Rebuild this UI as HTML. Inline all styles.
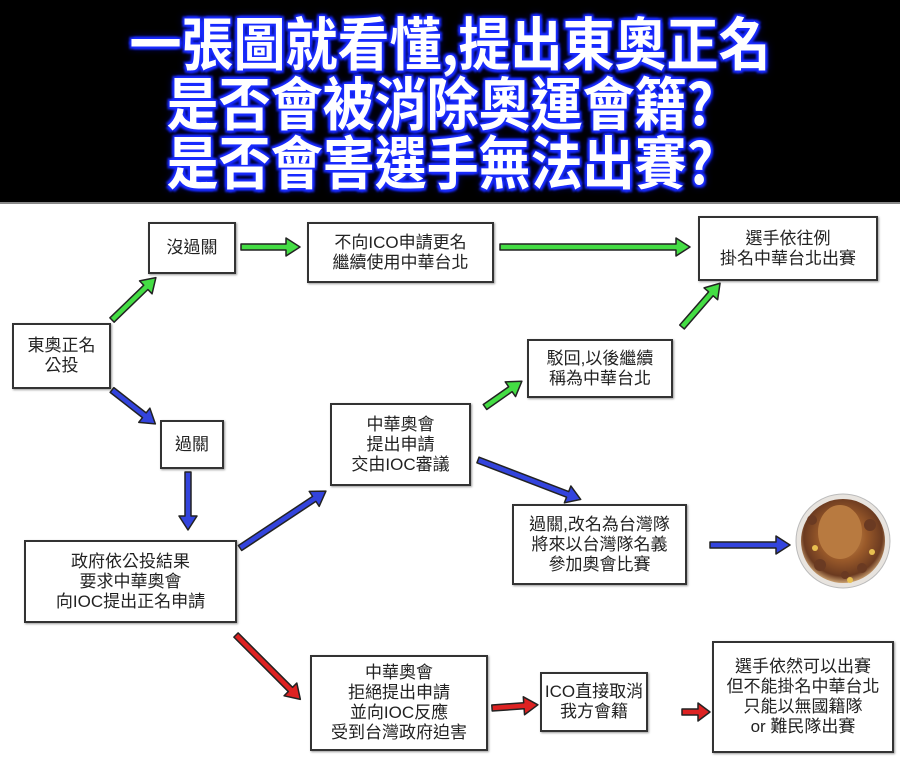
<!DOCTYPE html>
<html><head><meta charset="utf-8"><style>
body{margin:0;width:900px;height:765px;background:#fff;position:relative;overflow:hidden;font-family:"Liberation Sans","Noto Sans CJK TC",sans-serif}
#top{position:absolute;left:0;top:0;width:900px;height:202px;background:#000;border-bottom:2px solid #888}
.t{position:absolute;left:0;width:880px;text-align:center;color:#fff;font-weight:bold;font-size:52px;line-height:58px;transform:scaleY(1.1);font-family:"Noto Sans CJK TC","WenQuanYi Zen Hei",sans-serif;
text-shadow:0 0 2px #1a2cff,2px 2px 2px #1a2cff,-2px -2px 2px #1a2cff,2px -2px 2px #1a2cff,-2px 2px 2px #1a2cff,0 0 8px #0010c0}
.b{position:absolute;border:2px solid #333;background:#fff;display:flex;align-items:center;justify-content:center;text-align:center;font-size:17px;line-height:20px;color:#222;box-sizing:border-box;box-shadow:1px 1px 2px #999;font-family:"Liberation Sans","Noto Sans CJK TC",sans-serif}
svg{position:absolute;left:0;top:0}
</style></head><body>
<div id="top"></div>
<div class="t" style="top:12px;left:10px">一張圖就看懂,提出東奧正名</div>
<div class="t" style="top:72px">是否會被消除奧運會籍?</div>
<div class="t" style="top:131px">是否會害選手無法出賽?</div>

<div class="b" style="left:148px;top:222px;width:88px;height:52px">沒過關</div>
<div class="b" style="left:307px;top:222px;width:187px;height:61px">不向ICO申請更名<br>繼續使用中華台北</div>
<div class="b" style="left:698px;top:216px;width:180px;height:65px">選手依往例<br>掛名中華台北出賽</div>
<div class="b" style="left:12px;top:323px;width:99px;height:66px">東奧正名<br>公投</div>
<div class="b" style="left:527px;top:339px;width:146px;height:59px">駁回,以後繼續<br>稱為中華台北</div>
<div class="b" style="left:160px;top:420px;width:64px;height:49px">過關</div>
<div class="b" style="left:330px;top:403px;width:141px;height:83px">中華奧會<br>提出申請<br>交由IOC審議</div>
<div class="b" style="left:512px;top:504px;width:175px;height:81px">過關,改名為台灣隊<br>將來以台灣隊名義<br>參加奧會比賽</div>
<div class="b" style="left:24px;top:540px;width:213px;height:83px">政府依公投結果<br>要求中華奧會<br>向IOC提出正名申請</div>
<div class="b" style="left:310px;top:655px;width:178px;height:96px">中華奧會<br>拒絕提出申請<br>並向IOC反應<br>受到台灣政府迫害</div>
<div class="b" style="left:540px;top:672px;width:108px;height:60px">ICO直接取消<br>我方會籍</div>
<div class="b" style="left:712px;top:641px;width:182px;height:112px">選手依然可以出賽<br>但不能掛名中華台北<br>只能以無國籍隊<br>or 難民隊出賽</div>

<svg width="900" height="765">
<defs>
<radialGradient id="tk" cx="50%" cy="45%" r="55%"><stop offset="0" stop-color="#d09a5a"/><stop offset="0.5" stop-color="#9a5a2a"/><stop offset="0.85" stop-color="#6b3a20"/><stop offset="1" stop-color="#caa070"/></radialGradient>
</defs>
<circle cx="843" cy="541" r="47" fill="#e8e4df" stroke="#bbb"/>
<circle cx="843" cy="541" r="42" fill="url(#tk)"/>
<ellipse cx="840" cy="532" rx="22" ry="27" fill="#b87a40"/>
<g fill="#6a3a22"><circle cx="812" cy="520" r="5"/><circle cx="870" cy="525" r="6"/><circle cx="820" cy="565" r="6"/><circle cx="862" cy="568" r="5"/><circle cx="845" cy="575" r="4"/></g>
<g fill="#e8c050"><circle cx="815" cy="548" r="3"/><circle cx="872" cy="552" r="3"/><circle cx="850" cy="580" r="3"/></g>
<g stroke="#222" stroke-width="1.5" stroke-linejoin="round">
<g fill="#44dd44">
<polygon transform="translate(112,320) rotate(-44)" points="0,-3 47,-3 47,-9 61,0 47,9 47,3 0,3"/>
<polygon transform="translate(241,247)" points="0,-3 45,-3 45,-9 59,0 45,9 45,3 0,3"/>
<polygon transform="translate(500,247)" points="0,-3 176,-3 176,-9 190,0 176,9 176,3 0,3"/>
<polygon transform="translate(682,327) rotate(-49)" points="0,-3 44,-3 44,-9 58,0 44,9 44,3 0,3"/>
<polygon transform="translate(485,407) rotate(-35)" points="0,-3 31,-3 31,-9 45,0 31,9 31,3 0,3"/>
</g>
<g fill="#3344dd">
<polygon transform="translate(112,390) rotate(38)" points="0,-3 41,-3 41,-9 55,0 41,9 41,3 0,3"/>
<polygon transform="translate(188,472) rotate(90)" points="0,-3 44,-3 44,-9 58,0 44,9 44,3 0,3"/>
<polygon transform="translate(240,548) rotate(-33.5)" points="0,-3 89,-3 89,-9 103,0 89,9 89,3 0,3"/>
<polygon transform="translate(478,460) rotate(21)" points="0,-3 96,-3 96,-9 110,0 96,9 96,3 0,3"/>
<polygon transform="translate(710,545)" points="0,-3 66,-3 66,-9 80,0 66,9 66,3 0,3"/>
</g>
<g fill="#dd2222">
<polygon transform="translate(236,635) rotate(45)" points="0,-3 77,-3 77,-9 91,0 77,9 77,3 0,3"/>
<polygon transform="translate(492,708) rotate(-4)" points="0,-3 32,-3 32,-9 46,0 32,9 32,3 0,3"/>
<polygon transform="translate(682,712)" points="0,-3 16,-3 16,-9 28,0 16,9 16,3 0,3"/>
</g>
</g>
</svg>
</body></html>
